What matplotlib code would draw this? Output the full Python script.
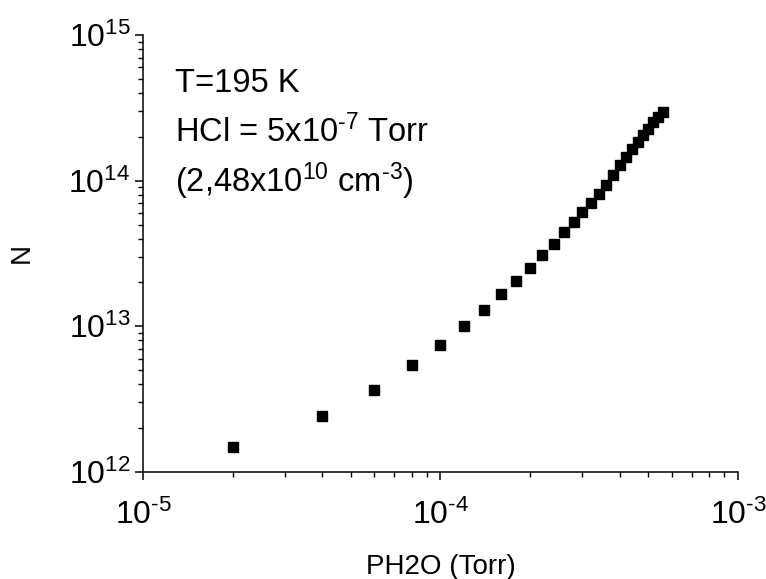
import matplotlib
matplotlib.use('Agg')
import matplotlib.pyplot as plt
from matplotlib.ticker import FuncFormatter
import numpy as np

plt.rcParams['font.family'] = ['Liberation Sans', 'DejaVu Sans']
plt.rcParams['mathtext.fontset'] = 'custom'
plt.rcParams['mathtext.rm'] = 'Liberation Sans'
plt.rcParams['mathtext.it'] = 'Liberation Sans'
plt.rcParams['mathtext.default'] = 'regular'

# water pressure (Torr)
ph2o = [2e-5, 4e-5, 6e-5, 8e-5, 1.0e-4, 1.2e-4, 1.4e-4, 1.6e-4, 1.8e-4, 2.0e-4,
        2.2e-4, 2.4e-4, 2.6e-4, 2.8e-4, 3.0e-4, 3.2e-4, 3.4e-4, 3.6e-4, 3.8e-4, 4.0e-4,
        4.2e-4, 4.4e-4, 4.6e-4, 4.8e-4, 5.0e-4, 5.2e-4, 5.4e-4, 5.6e-4]
# N values
n_vals = [1.49e12, 2.42e12, 3.68e12, 5.41e12, 7.43e12, 1.0e13, 1.30e13, 1.66e13, 2.06e13, 2.51e13,
          3.08e13, 3.68e13, 4.41e13, 5.19e13, 6.1e13, 6.98e13, 8.04e13, 9.3e13, 1.09e14, 1.28e14,
          1.45e14, 1.64e14, 1.84e14, 2.06e14, 2.28e14, 2.53e14, 2.74e14, 2.97e14]


def pow10(v, pos):
    e = int(round(np.log10(v)))
    if e < 0:
        return r'10$^{\text{-}%d}$' % (-e)
    return r'10$^{%d}$' % e


fig = plt.figure(figsize=(7.66, 5.79), dpi=100)
ax = fig.add_axes([0.1867, 0.1848, 0.7767, 0.7548])

ax.plot(ph2o, n_vals, 's', color='black', ms=7.8, mec='black')
ax.set_xscale('log')
ax.set_yscale('log')
ax.set_xlim(1e-5, 1e-3)
ax.set_ylim(1e12, 1e15)
ax.xaxis.set_major_formatter(FuncFormatter(pow10))
ax.yaxis.set_major_formatter(FuncFormatter(pow10))

ax.spines['top'].set_visible(False)
ax.spines['right'].set_visible(False)
for s in ['left', 'bottom']:
    ax.spines[s].set_linewidth(1.1)

ax.tick_params(which='major', direction='out', length=6, width=1.1, labelsize=23)
ax.tick_params(which='minor', direction='out', length=3.5, width=1.0)
ax.tick_params(axis='x', which='major', pad=14)
ax.tick_params(axis='y', which='major', pad=3)

ax.set_xlabel('PH2O (Torr)', fontsize=20)
ax.set_ylabel('N', fontsize=20)
ax.xaxis.set_label_coords(0.5, -0.188)
ax.yaxis.set_label_coords(-0.182, 0.5)

fig.text(0.228, 0.841, 'T=195 K', fontsize=23.5, va='baseline')
fig.text(0.228, 0.755, r'HCl = 5x10$^{\text{-}7}$ Torr', fontsize=23.5, va='baseline')
fig.text(0.228, 0.668, r'(2,48x10$^{10}$ cm$^{\text{-}3}$)', fontsize=23.5, va='baseline')

plt.savefig('out.png', dpi=100)
